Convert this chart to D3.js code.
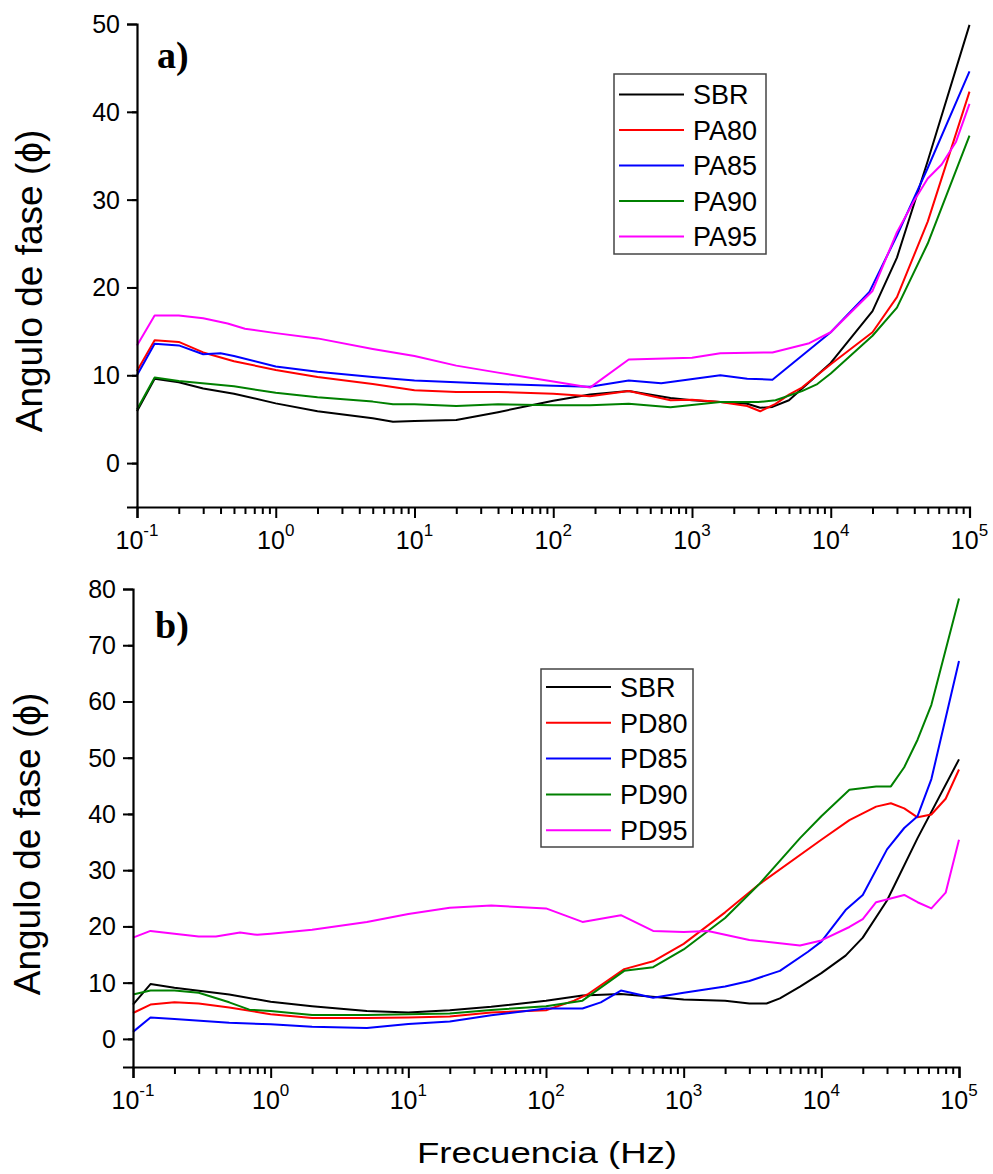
<!DOCTYPE html>
<html>
<head>
<meta charset="utf-8">
<script src="https://cdn.jsdelivr.net/npm/d3@7"></script>
<style>
  html, body { margin: 0; padding: 0; background: #fff; }
  svg { display: block; }
</style>
</head>
<body>
<svg id="chart" width="993" height="1174"></svg>
<script>
// ---------- DATA (frequency Hz, phase angle deg) ----------
const seriesNamesA = ["SBR", "PA80", "PA85", "PA90", "PA95"];
const seriesNamesB = ["SBR", "PD80", "PD85", "PD90", "PD95"];
const seriesColors = ["#000000", "#ff0000", "#0000ff", "#008000", "#ff00ff"];
const yTicksA = [0, 10, 20, 30, 40, 50];
const yTicksB = [0, 10, 20, 30, 40, 50, 60, 70, 80];
const xDecades = [-1, 0, 1, 2, 3, 4, 5];

const SBR_A = [[0.1,5.9],[0.134,9.6],[0.2,9.2],[0.3,8.5],[0.5,7.9],[1,6.8],[2,5.9],[5,5.1],[7,4.7],[10,4.8],[20,4.9],[40,5.8],[100,7.1],[184,7.8],[350,8.2],[700,7.4],[1000,7.15],[1600,6.95],[2500,6.75],[3100,6.3],[3800,6.4],[5000,7.15],[10000,11.4],[20000,17.3],[30000,23.4],[50000,34.4],[100000,49.9]];
const PA80 = [[0.1,10.5],[0.134,14.0],[0.2,13.8],[0.3,12.6],[0.5,11.6],[1,10.6],[2,9.8],[5,9.0],[10,8.3],[20,8.1],[40,8.1],[100,7.9],[184,7.6],[350,8.2],[700,7.15],[1000,7.2],[1600,6.95],[2500,6.5],[3100,5.9],[4000,6.75],[5000,7.8],[6200,8.6],[10000,11.25],[20000,14.9],[30000,18.9],[50000,27.5],[100000,42.3]];
const PA85 = [[0.1,10.0],[0.134,13.6],[0.2,13.4],[0.3,12.4],[0.4,12.5],[0.5,12.2],[1,11.0],[2,10.4],[5,9.8],[7,9.6],[10,9.4],[20,9.2],[40,9.0],[100,8.8],[184,8.7],[350,9.4],[600,9.1],[1600,10.0],[2500,9.6],[3800,9.5],[10000,14.9],[19000,19.5],[30000,25.9],[50000,33.6],[100000,44.6]];
const PA90 = [[0.1,6.1],[0.134,9.75],[0.2,9.35],[0.5,8.75],[1,8.0],[2,7.5],[5,7.0],[7,6.7],[10,6.7],[20,6.5],[40,6.7],[100,6.6],[184,6.6],[350,6.75],[700,6.35],[1600,6.95],[3000,6.95],[4000,7.15],[6200,8.2],[8000,9.0],[10000,10.2],[20000,14.5],[30000,17.7],[50000,25.0],[100000,37.3]];
const PA95 = [[0.1,13.4],[0.134,16.8],[0.2,16.8],[0.3,16.5],[0.45,15.9],[0.6,15.3],[1,14.8],[2,14.2],[5,13.0],[10,12.2],[20,11.1],[40,10.3],[100,9.3],[184,8.6],[350,11.8],[1000,12.0],[1600,12.5],[3800,12.6],[7000,13.65],[10000,14.9],[20000,19.6],[30000,26.3],[40000,29.9],[50000,32.4],[63000,34.0],[80000,36.6],[100000,40.9]];

const SBR_B = [[0.1,6.1],[0.134,9.75],[0.2,9.1],[0.5,7.9],[1,6.6],[2,5.8],[5,4.95],[10,4.7],[20,5.1],[40,5.7],[100,6.8],[184,7.7],[350,8.0],[1000,7.0],[2000,6.8],[3000,6.3],[4000,6.3],[5000,7.2],[7000,9.3],[10000,11.7],[15000,14.8],[20000,18.0],[30000,24.6],[50000,35.7],[100000,49.7]];
const PD80 = [[0.1,4.6],[0.134,6.1],[0.2,6.5],[0.3,6.3],[0.5,5.6],[1,4.4],[2,3.7],[5,3.7],[10,3.8],[20,4.0],[40,4.7],[100,5.1],[160,6.8],[200,7.9],[370,12.4],[600,13.8],[1000,16.9],[2000,22.5],[3500,27.4],[10000,35.4],[16000,38.9],[25000,41.3],[32000,41.9],[40000,41.0],[50000,39.4],[63000,39.9],[80000,42.7],[100000,47.9]];
const PD85 = [[0.1,1.25],[0.134,3.8],[0.2,3.55],[0.5,2.85],[1,2.6],[2,2.15],[5,1.95],[10,2.65],[20,3.1],[40,4.2],[100,5.4],[184,5.4],[250,6.5],[350,8.6],[600,7.3],[1000,8.2],[2000,9.3],[3000,10.3],[5000,12.1],[8000,15.5],[10000,17.3],[15000,22.9],[20000,25.6],[30000,33.7],[40000,37.5],[50000,39.6],[63000,46.2],[100000,67.2]];
const PD90 = [[0.1,7.9],[0.134,8.6],[0.2,8.6],[0.3,8.2],[0.5,6.5],[0.7,5.2],[1,4.95],[2,4.25],[5,4.25],[10,4.4],[20,4.5],[40,5.15],[100,5.8],[184,6.8],[370,12.1],[600,12.75],[1000,15.9],[2000,21.5],[3500,27.4],[7000,35.7],[10000,39.6],[16000,44.3],[25000,44.9],[32000,44.9],[40000,48.3],[50000,53.2],[63000,59.4],[100000,78.3]];
const PD95 = [[0.1,18.0],[0.134,19.2],[0.2,18.7],[0.3,18.2],[0.4,18.2],[0.6,18.9],[0.8,18.5],[1,18.7],[2,19.4],[5,20.8],[10,22.2],[20,23.3],[40,23.7],[100,23.2],[184,20.8],[350,22.0],[600,19.2],[1000,19.0],[1500,19.2],[3000,17.6],[7000,16.6],[10000,17.5],[16000,19.9],[20000,21.3],[25000,24.3],[40000,25.6],[50000,24.3],[63000,23.2],[80000,26.0],[100000,35.4]];

const panelAData = [SBR_A, PA80, PA85, PA90, PA95];
const panelBData = [SBR_B, PD80, PD85, PD90, PD95];

// ---------- DRAW ----------
const svg = d3.select("#chart");
const SANS = "Arial, 'Liberation Sans', sans-serif";

function minorTicks(lo, hi) {
  const out = [];
  for (let d = lo; d < hi; d++) {
    for (let m = 2; m <= 9; m++) out.push(m * Math.pow(10, d));
  }
  return out;
}

function drawPanel(cfg) {
  const x = d3.scaleLog().domain([0.1, 1e5]).range([cfg.x0, cfg.x1]);
  const y = d3.scaleLinear().domain(cfg.yDomain).range([cfg.yBottom, cfg.yTop]);
  const g = svg.append("g");

  // lines
  const line = d3.line().x(d => x(d[0])).y(d => y(d[1]));
  cfg.data.forEach((s, i) => {
    g.append("path").datum(s)
      .attr("d", line)
      .attr("fill", "none")
      .attr("stroke", seriesColors[i])
      .attr("stroke-width", 2)
      .attr("stroke-linejoin", "round");
  });

  // x axis: majors
  const majors = xDecades.map(d => Math.pow(10, d));
  const xAxisMaj = d3.axisBottom(x).tickValues(majors).tickSize(11).tickFormat("");
  const xAxisMin = d3.axisBottom(x).tickValues(minorTicks(-1, 5)).tickSize(7).tickFormat("");
  const gx = g.append("g").attr("transform", `translate(0,${cfg.yBottom})`).call(xAxisMaj);
  g.append("g").attr("transform", `translate(0,${cfg.yBottom})`).call(xAxisMin).select(".domain").remove();
  g.selectAll(".tick line").attr("stroke", "#000").attr("stroke-width", 2);
  gx.select(".domain").attr("stroke", "#000").attr("stroke-width", 2.2);

  // x tick labels 10^n
  xDecades.forEach(d => {
    const t = g.append("text")
      .attr("x", x(Math.pow(10, d)))
      .attr("y", cfg.yBottom + 42)
      .attr("text-anchor", "middle")
      .attr("font-family", SANS)
      .attr("font-size", 25)
      .attr("fill", "#000");
    t.append("tspan").text("10");
    t.append("tspan").attr("dy", -13).attr("font-size", 17).text(d < 0 ? "-" + Math.abs(d) : String(d));
  });

  // y axis
  const minorY = d3.range(cfg.yDomain[0] + 5, cfg.yDomain[1], 10);
  const yAxisMaj = d3.axisLeft(y).tickValues(cfg.yTicks).tickSize(10).tickFormat("");
  const yAxisMin = d3.axisLeft(y).tickValues(minorY).tickSize(5).tickFormat("");
  const gy = g.append("g").attr("transform", `translate(${cfg.x0},0)`).call(yAxisMaj);
  g.append("g").attr("transform", `translate(${cfg.x0},0)`).call(yAxisMin).select(".domain").remove();
  gy.select(".domain").attr("stroke", "#000").attr("stroke-width", 2.2);
  g.selectAll(".tick line").attr("stroke", "#000").attr("stroke-width", 2);

  cfg.yTicks.forEach(v => {
    g.append("text")
      .attr("x", cfg.x0 - 17)
      .attr("y", y(v))
      .attr("dy", "0.36em")
      .attr("text-anchor", "end")
      .attr("font-family", SANS)
      .attr("font-size", 25)
      .attr("fill", "#000")
      .text(v);
  });

  // y title
  g.append("text")
    .attr("transform", `translate(${cfg.titleX},${cfg.titleY}) rotate(-90)`)
    .attr("text-anchor", "middle")
    .attr("font-family", SANS)
    .attr("font-size", 37)
    .attr("fill", "#000")
    .text("Angulo de fase (\u03D5)");

  // panel label
  g.append("text")
    .attr("x", cfg.labelX).attr("y", cfg.labelY)
    .attr("font-family", "'Liberation Serif', 'Times New Roman', serif")
    .attr("font-weight", "bold")
    .attr("font-size", 38)
    .attr("fill", "#000")
    .text(cfg.label);

  // legend
  const lg = g.append("g");
  lg.append("rect")
    .attr("x", cfg.legX).attr("y", cfg.legY)
    .attr("width", 152).attr("height", cfg.legH)
    .attr("fill", "#fff").attr("stroke", "#444").attr("stroke-width", 1.5);
  cfg.names.forEach((n, i) => {
    const cy = cfg.legRow0 + i * cfg.legStep;
    lg.append("line")
      .attr("x1", cfg.legX + 5).attr("x2", cfg.legX + 70)
      .attr("y1", cy).attr("y2", cy)
      .attr("stroke", seriesColors[i]).attr("stroke-width", 2);
    lg.append("text")
      .attr("x", cfg.legX + 79).attr("y", cy)
      .attr("dy", "0.36em")
      .attr("font-family", SANS)
      .attr("font-size", 27)
      .attr("fill", "#000")
      .text(n);
  });
}

drawPanel({
  data: panelAData, names: seriesNamesA,
  x0: 137, x1: 969.5, yTop: 24, yBottom: 507, yDomain: [-5, 50], yTicks: yTicksA,
  titleX: 42, titleY: 281, label: "a)", labelX: 157, labelY: 68,
  legX: 614, legY: 74, legH: 180, legRow0: 94.6, legStep: 35.5
});

drawPanel({
  data: panelBData, names: seriesNamesB,
  x0: 133, x1: 959, yTop: 589, yBottom: 1067, yDomain: [-5, 80], yTicks: yTicksB,
  titleX: 40, titleY: 844, label: "b)", labelX: 155, labelY: 638,
  legX: 541, legY: 669, legH: 178, legRow0: 687, legStep: 35.8
});

// x title
svg.append("text")
  .attr("x", 547).attr("y", 1163)
  .attr("text-anchor", "middle")
  .attr("font-family", SANS)
  .attr("font-size", 30)
  .attr("textLength", 260)
  .attr("lengthAdjust", "spacingAndGlyphs")
  .attr("fill", "#000")
  .text("Frecuencia (Hz)");
</script>
</body>
</html>
